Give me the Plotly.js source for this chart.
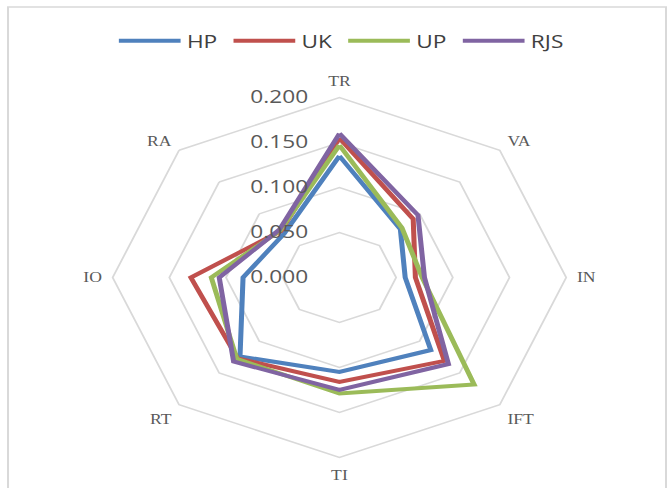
<!DOCTYPE html>
<html>
<head>
<meta charset="utf-8">
<script src="https://cdn.plot.ly/plotly-3.0.1.min.js"></script>
<style>
  html, body { margin: 0; padding: 0; background: #ffffff; }
  #wrap { width: 669px; height: 488px; overflow: hidden; position: relative; }
  #plot { width: 531px; height: 488px; transform: scaleX(1.2599); transform-origin: 0 0; }
</style>
</head>
<body>
<div id="wrap"><div id="plot"></div></div>
<script>
// Axes of the radar, clockwise from the top
const categories = ["TR", "VA", "IN", "IFT", "TI", "RT", "IO", "RA"];

// Series values (same order as categories)
const hpValues  = [0.135, 0.076, 0.058, 0.114, 0.105, 0.124, 0.085, 0.069];
const ukValues  = [0.155, 0.092, 0.067, 0.131, 0.116, 0.127, 0.131, 0.073];
const upValues  = [0.147, 0.078, 0.073, 0.168, 0.129, 0.128, 0.113, 0.074];
const rjsValues = [0.160, 0.098, 0.075, 0.136, 0.125, 0.132, 0.106, 0.075];

const seriesNames = ["HP", "UK", "UP", "RJS"];
const radialTicks = [0, 0.05, 0.1, 0.15, 0.2];
const radialTickLabels = ["0.000", "0.050", "0.100", "0.150", "0.200"];

const colors = ["#4F81BD", "#C0504D", "#9BBB59", "#8064A2"];
const allValues = [hpValues, ukValues, upValues, rjsValues];

function closed(arr) { return arr.concat([arr[0]]); }

const traces = allValues.map((vals, i) => ({
  type: "scatterpolar",
  mode: "lines",
  name: seriesNames[i],
  r: closed(vals),
  theta: closed(categories),
  line: { color: colors[i], width: 4 },
  hoverinfo: "skip"
}));

const grid = "#D9D9D9";

const layout = {
  width: 531,
  height: 488,
  margin: { l: 0, r: 0, t: 0, b: 0 },
  paper_bgcolor: "#ffffff",
  showlegend: true,
  legend: {
    orientation: "h",
    x: 0.511, xanchor: "center",
    y: 0.916, yanchor: "middle",
    font: { family: "Open Sans", size: 18, color: "#404040" },
    itemwidth: 49,
    entrywidth: 27,
    entrywidthmode: "pixels",
    bgcolor: "rgba(0,0,0,0)"
  },
  polar: {
    domain: { x: [0.1684, 0.8463], y: [0.0625, 0.8002] },
    bgcolor: "#ffffff",
    gridshape: "linear",
    angularaxis: {
      type: "category",
      categoryarray: categories,
      rotation: 90,
      direction: "clockwise",
      showgrid: false,
      showline: true,
      linecolor: grid,
      linewidth: 1.5,
      ticks: "outside",
      ticklen: 5,
      tickcolor: "rgba(0,0,0,0)",
      tickfont: { family: "Liberation Serif", size: 14, color: "#595959" }
    },
    radialaxis: {
      range: [0, 0.2],
      tickvals: radialTicks,
      ticktext: radialTickLabels,
      angle: 90,
      side: "counterclockwise",
      showline: false,
      showgrid: true,
      gridcolor: grid,
      gridwidth: 1.5,
      ticks: "outside",
      ticklen: 18,
      tickcolor: "rgba(0,0,0,0)",
      tickangle: 90,
      tickfont: { family: "Open Sans", size: 18, color: "#595959" },
      layer: "above traces"
    }
  },
  shapes: [{
    type: "rect", xref: "paper", yref: "paper",
    x0: 0.0120, x1: 0.9955, y0: -0.1, y1: 0.9857,
    line: { color: "#D9D9D9", width: 1.6 },
    fillcolor: "rgba(0,0,0,0)"
  }]
};

Plotly.newPlot("plot", traces, layout, { displayModeBar: false, staticPlot: true });
</script>
</body>
</html>
